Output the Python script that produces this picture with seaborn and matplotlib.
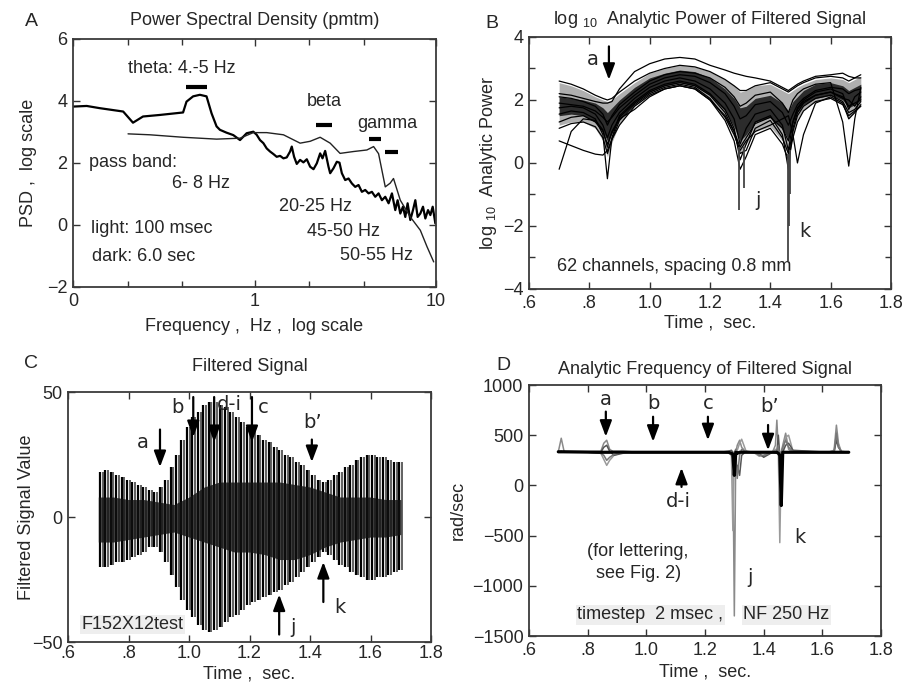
import numpy as np
import pandas as pd
import matplotlib
matplotlib.use("Agg")
import matplotlib.pyplot as plt
import seaborn as sns

# ---------------- Panel A : power spectral density ----------------
psd_freq = [0.100, 0.119, 0.140, 0.189, 0.214, 0.243, 0.301, 0.404, 0.422, 0.459,
            0.500, 0.544, 0.580, 0.618, 0.645, 0.700, 0.764, 0.832, 0.905, 0.985,
            1.028, 1.072, 1.119, 1.167, 1.218, 1.270, 1.325, 1.383, 1.443, 1.505,
            1.570, 1.604, 1.652, 1.709, 1.783, 1.860, 1.941, 2.025, 2.113, 2.204,
            2.299, 2.369, 2.450, 2.556, 2.611, 2.723, 2.841, 2.939, 3.028, 3.159,
            3.296, 3.439, 3.587, 3.742, 3.904, 4.073, 4.249, 4.433, 4.625, 4.825,
            5.034, 5.252, 5.479, 5.716, 5.963, 6.143, 6.355, 6.574, 6.771, 6.975,
            7.216, 7.465, 7.690, 7.921, 8.194, 8.477, 8.733, 9.034, 9.308, 9.586, 9.915]
psd_logpow = [3.82, 3.84, 3.77, 3.66, 3.30, 3.50, 3.55, 3.63, 3.98, 4.15,
              4.20, 4.15, 3.60, 3.18, 3.07, 2.98, 2.90, 2.74, 2.96, 3.01,
              2.91, 2.74, 2.64, 2.47, 2.37, 2.29, 2.20, 2.23, 2.15, 2.18,
              2.37, 2.53, 2.20, 1.97, 2.10, 2.02, 2.12, 1.88, 1.80, 1.99,
              2.31, 2.15, 2.39, 1.88, 1.67, 1.83, 2.04, 2.01, 1.67, 1.45,
              1.50, 1.34, 1.23, 1.29, 1.07, 1.13, 1.02, 1.07, 0.91, 1.02,
              0.80, 0.91, 0.70, 1.02, 0.48, 0.80, 0.37, 0.59, 0.26, 0.70,
              0.16, 0.48, 0.80, 0.26, 0.37, 0.59, 0.21, 0.48, 0.32, 0.59, 0.05]
ref_freq = [0.201, 0.265, 0.404, 0.618, 0.832, 0.985, 1.167, 1.443, 1.783, 2.025,
            2.299, 2.611, 2.960, 3.510, 4.160, 4.530, 4.825, 5.252, 5.590, 5.830,
            6.355, 7.216, 8.194, 8.920, 9.710]
ref_logpow = [2.94, 2.91, 2.83, 2.77, 2.80, 2.98, 2.98, 2.91, 2.64, 2.70,
              2.83, 2.64, 2.31, 2.37, 2.42, 2.53, 2.30, 1.23, 1.35, 1.50,
              0.80, 0.26, -0.17, -0.70, -1.19]

# ---------------- Panel B : log10 analytic power, channels ----------------
b_time = [0.70, 0.74, 0.78, 0.82, 0.845, 0.86, 0.875, 0.90, 0.95, 1.00, 1.05, 1.10,
          1.15, 1.20, 1.25, 1.28, 1.30, 1.32, 1.35, 1.40, 1.44, 1.46, 1.475, 1.49,
          1.51, 1.55, 1.60, 1.64, 1.66, 1.68, 1.70]
b_ch1 = [2.60, 2.50, 2.35, 2.15, 2.05, 2.00, 2.05, 2.25, 2.60, 2.85, 3.00, 3.10, 3.05, 2.90, 2.65, 2.45,
         2.30, 2.30, 2.45, 2.55, 2.35, 2.25, 2.35, 2.45, 2.55, 2.70, 2.75, 2.70, 2.60, 2.70, 2.80]
b_ch2 = [2.20, 2.15, 2.05, 1.95, 1.90, 1.90, 1.95, 2.35, 2.90, 3.15, 3.30, 3.35, 3.30, 3.10, 2.95, 2.85,
         2.80, 2.75, 2.70, 2.60, 2.40, 2.30, 2.40, 2.50, 2.60, 2.75, 2.80, 2.85, 2.75, 2.70, 2.70]
b_ch3 = [1.90, 1.85, 1.80, 1.65, 1.45, 1.30, 1.45, 1.75, 2.15, 2.50, 2.70, 2.80, 2.75, 2.55, 2.20, 1.80,
         1.40, 1.50, 1.85, 1.95, 1.60, 1.20, 1.55, 1.85, 2.05, 2.30, 2.40, 2.35, 2.20, 2.30, 2.35]
b_ch4 = [1.75, 1.80, 1.75, 1.55, 1.20, 0.80, 1.20, 1.60, 2.05, 2.40, 2.60, 2.70, 2.60, 2.35, 1.90, 1.40,
         0.60, 1.10, 1.55, 1.70, 1.20, 0.40, 1.30, 1.75, 2.00, 2.25, 2.35, 2.20, 1.70, 2.10, 2.25]
b_ch5 = [1.55, 1.65, 1.60, 1.40, 0.90, -0.50, 0.80, 1.50, 1.95, 2.30, 2.50, 2.60, 2.50, 2.20, 1.70, 1.10,
         0.10, 0.60, 1.30, 1.50, 0.90, -0.20, 1.10, 1.60, 1.90, 2.15, 2.25, 2.05, 2.00, 1.80, 2.10]
b_ch6 = [1.30, 1.45, 1.50, 1.30, 1.00, 0.60, 0.95, 1.45, 1.90, 2.25, 2.45, 2.55, 2.45, 2.15, 1.60, 1.00,
         0.30, 0.40, 1.10, 1.35, 0.80, 0.30, 1.00, 1.50, 1.80, 2.05, 2.15, 1.95, 1.60, 1.70, 1.95]
b_ch7 = [1.10, 1.25, 1.30, 1.15, 0.80, 0.30, 0.75, 1.35, 1.85, 2.20, 2.40, 2.50, 2.40, 2.05, 1.45, 0.90,
         0.40, 0.70, 1.00, 1.20, 1.40, 1.50, 0.90, 0.00, 0.90, 1.90, 2.10, 1.90, 1.40, 1.60, 1.85]
b_ch8 = [2.10, 2.05, 1.95, 1.80, 1.55, 1.20, 1.50, 1.85, 2.25, 2.60, 2.80, 2.90, 2.85, 2.70, 2.40, 2.10,
         1.80, 1.90, 2.15, 2.25, 1.90, 1.60, 2.00, 2.20, 2.35, 2.50, 2.55, 1.30, -0.10, 1.40, 2.40]
b_ch9 = [0.70, 0.55, 0.40, 0.28, 0.25, 0.40, 0.75, 1.20, 1.80, 2.15, 2.35, 2.45, 2.35, 2.00, 1.50, 1.00,
         0.50, 0.80, 1.25, 1.45, 1.10, 0.70, 1.30, 1.70, 1.95, 2.15, 2.25, 2.10, 1.80, 1.90, 2.00]
b_ch10 = [-0.20, 1.00, 1.40, 1.35, 1.05, 0.50, 1.00, 1.40, 1.70, 2.10, 2.35, 2.45, 2.35, 2.00, 1.35, 0.70,
          -0.20, 0.20, 0.90, 1.10, 0.60, 0.10, 0.80, 1.30, 1.65, 1.95, 2.05, 1.85, 1.50, 1.65, 1.80]
b_outer_hi = [2.55, 2.45, 2.30, 2.10, 2.00, 1.95, 2.00, 2.20, 2.55, 2.85, 3.00, 3.10, 3.05, 2.90, 2.65, 2.45,
              2.25, 2.30, 2.45, 2.50, 2.30, 2.20, 2.30, 2.40, 2.50, 2.65, 2.70, 2.65, 2.55, 2.65, 2.75]
b_outer_lo = [1.20, 1.30, 1.30, 1.10, 0.70, 0.20, 0.65, 1.25, 1.80, 2.15, 2.35, 2.45, 2.35, 2.00, 1.40, 0.80,
              0.30, 0.60, 1.00, 1.15, 0.70, 0.20, 0.90, 1.40, 1.70, 1.95, 2.05, 1.85, 1.40, 1.60, 1.80]
b_core_hi = [2.10, 2.05, 2.00, 1.90, 1.75, 1.60, 1.75, 2.00, 2.40, 2.70, 2.85, 2.95, 2.90, 2.70, 2.35, 2.05,
             1.75, 1.80, 2.05, 2.15, 1.90, 1.65, 1.95, 2.10, 2.30, 2.50, 2.55, 2.45, 2.30, 2.40, 2.50]
b_core_lo = [1.50, 1.55, 1.50, 1.30, 1.00, 0.70, 0.95, 1.40, 1.90, 2.25, 2.45, 2.55, 2.45, 2.15, 1.65, 1.15,
             0.70, 0.90, 1.30, 1.45, 1.10, 0.75, 1.25, 1.60, 1.85, 2.05, 2.15, 2.00, 1.75, 1.85, 2.00]
b_spike_time = [1.297, 1.312, 1.458, 1.461, 1.464]
b_spike_low = [-1.5, -0.8, -3.1, -2.0, -1.0]
b_spike_high = [0.5, 0.5, 0.3, 0.3, 0.4]

# ---------------- Panel C : filtered signal (peak / trough per cycle) ----------------
c_cycle_time = np.linspace(0.705, 1.695, 56)
c_peaks = [18, 19, 18, 17, 16, 15, 14, 13, 12, 11, 10, 12, 15, 20, 25, 31, 36, 40, 42, 45,
           46, 46, 45, 44, 42, 40, 38, 36, 35, 33, 31, 30, 28, 27, 25, 24, 22, 21, 19, 17,
           15, 14, 15, 17, 18, 20, 21, 23, 24, 25, 25, 24, 24, 23, 22, 22]
c_troughs = [-20, -20, -19, -18, -18, -17, -16, -15, -14, -12, -12, -14, -18, -23, -28, -33, -37, -40, -43, -45,
             -46, -45, -44, -42, -40, -39, -37, -35, -34, -33, -32, -31, -30, -29, -27, -26, -24, -22, -20, -18,
             -16, -14, -15, -17, -19, -20, -22, -23, -24, -25, -25, -24, -24, -23, -22, -21]
c_core_time = [0.70, 0.75, 0.80, 0.85, 0.90, 0.95, 1.00, 1.05, 1.10, 1.15, 1.20,
               1.25, 1.30, 1.35, 1.40, 1.45, 1.50, 1.55, 1.60, 1.65, 1.70]
c_core_hi = [8, 8, 7, 7, 6, 5, 8, 12, 14, 14, 14, 14, 14, 13, 12, 10, 8, 8, 8, 7, 7]
c_core_lo = [-10, -10, -9, -8, -7, -6, -8, -10, -12, -14, -14, -15, -17, -17, -15, -12, -10, -9, -8, -8, -7]

# ---------------- Panel D : analytic frequency ----------------
d_time = [0.700, 0.710, 0.720, 0.800, 0.845, 0.855, 0.865, 0.875, 0.890, 0.920,
          0.950, 1.250, 1.280, 1.290, 1.295, 1.300, 1.305, 1.310, 1.318, 1.325,
          1.340, 1.370, 1.385, 1.400, 1.430, 1.440, 1.445, 1.450, 1.455, 1.460,
          1.465, 1.475, 1.485, 1.500, 1.620, 1.640, 1.648, 1.655, 1.665, 1.690]
d_main = [335, 335, 335, 332, 330, 330, 330, 330, 332, 332,
          330, 330, 330, 320, 310, 100, 330, 320, 330, 330,
          330, 330, 330, 330, 330, 330, 330, 320, 300, -200,
          330, 330, 330, 330, 330, 330, 330, 330, 330, 330]
d_ch2 = [335, 470, 335, 335, 340, 420, 450, 360, 330, 335,
         330, 330, 320, 330, 330, -1300, 330, 400, 450, 380,
         330, 330, 300, 290, 330, 400, 650, 350, 330, 330,
         400, 520, 360, 330, 330, 350, 600, 420, 330, 330]
d_ch3 = [330, 330, 330, 330, 320, 260, 200, 250, 300, 330,
         330, 330, 330, 320, -450, 300, 310, 350, 420, 460,
         340, 320, 290, 300, 330, 360, 330, 330, -570, 250,
         340, 480, 500, 340, 330, 340, 480, 400, 335, 330]
d_ch4 = [330, 340, 330, 330, 330, 380, 400, 340, 300, 320,
         330, 330, 340, 350, 330, 250, 100, 200, 100, 300,
         340, 330, 320, 280, 330, 330, 330, 500, 300, 200,
         330, 400, 420, 350, 330, 330, 450, 380, 335, 330]
d_ch5 = [330, 330, 330, 330, 320, 300, 250, 280, 310, 330,
         330, 330, 330, 300, 280, 330, 360, 70, 300, 360,
         330, 330, 300, 300, 330, 320, 350, 400, 280, 330,
         380, 450, 380, 340, 330, 330, 520, 380, 340, 330]

# ---------------- styling ----------------
sns.set_theme(style="ticks")
plt.rcParams['font.family'] = ['Liberation Sans', 'DejaVu Sans']
plt.rcParams['mathtext.default'] = 'regular'
FS = 13
LETTER = dict(family=['DejaVu Sans'], fontsize=14)

fig = plt.figure(figsize=(9.23, 6.83), dpi=100)
fig.patch.set_facecolor('white')
axA = fig.add_axes([0.0791, 0.5798, 0.3933, 0.3631])
axB = fig.add_axes([0.5731, 0.5769, 0.3922, 0.3690])
axC = fig.add_axes([0.0737, 0.0600, 0.3933, 0.3660])
axD = fig.add_axes([0.5731, 0.0688, 0.3814, 0.3675])


def style(ax):
    ax.tick_params(which='both', direction='in', top=True, right=True,
                   labelsize=FS, color='#333333', pad=4)
    ax.tick_params(which='major', length=5, width=1)
    ax.tick_params(which='minor', length=4, width=1)
    for s in ax.spines.values():
        s.set_linewidth(1.3)
        s.set_color('#3a3a3a')


def arrow(ax, x, y0, y1):
    ax.annotate('', xy=(x, y1), xytext=(x, y0),
                arrowprops=dict(arrowstyle='-|>,head_length=0.8,head_width=0.3',
                                color='black', lw=1.6, shrinkA=0, shrinkB=0), zorder=6)


time_ticks = [0.6, 0.8, 1.0, 1.2, 1.4, 1.6, 1.8]
time_labels = ['.6', '.8', '1.0', '1.2', '1.4', '1.6', '1.8']

# ---- Panel A ----
sns.lineplot(x=psd_freq, y=psd_logpow, ax=axA, color='black', lw=1.6, estimator=None, sort=False)
sns.lineplot(x=ref_freq, y=ref_logpow, ax=axA, color='#222222', lw=1.0, estimator=None, sort=False)
axA.set_xscale('log')
axA.set_xlim(0.1, 10)
axA.set_ylim(-2, 6)
axA.set_xticks([0.1, 1, 10])
axA.set_xticklabels(['0', '1', '10'])
axA.set_xticks([0.2, 0.4, 2, 4], minor=True)
axA.xaxis.set_minor_formatter(matplotlib.ticker.NullFormatter())
axA.set_yticks([-2, 0, 2, 4, 6])
style(axA)
axA.set_title('Power Spectral Density (pmtm)', fontsize=FS, pad=10)
axA.set_xlabel('Frequency ,  Hz ,  log scale', fontsize=FS)
axA.set_ylabel('PSD ,  log scale', fontsize=FS)
axA.xaxis.set_label_coords(0.5, -0.125)
axA.yaxis.set_label_coords(-0.10, 0.5)
for lo, hi, yv in [(0.42, 0.544, 4.45), (2.18, 2.68, 3.21), (4.25, 4.97, 2.76), (5.25, 6.2, 2.35)]:
    axA.hlines(yv, lo, hi, color='black', lw=3)
for txt, x, y in [('theta: 4.-5 Hz', 0.20, 5.06), ('beta', 1.94, 3.98), ('gamma', 3.67, 3.26),
                  ('pass band:', 0.122, 2.02), ('6- 8 Hz', 0.35, 1.34), ('20-25 Hz', 1.36, 0.59),
                  ('45-50 Hz', 1.94, -0.22), ('50-55 Hz', 2.96, -0.97),
                  ('light: 100 msec', 0.125, -0.11), ('dark: 6.0 sec', 0.127, -1.03)]:
    axA.text(x, y, txt, fontsize=FS, ha='left', va='center')

# ---- Panel B ----
b_curves = [b_ch1, b_ch2, b_ch3, b_ch4, b_ch5, b_ch6, b_ch7, b_ch8, b_ch9, b_ch10]
dfB = pd.DataFrame({'time': np.tile(b_time, len(b_curves)),
                    'power': np.concatenate(b_curves),
                    'channel': np.repeat(np.arange(len(b_curves)), len(b_time))})
axB.fill_between(b_time, b_outer_lo, b_outer_hi, color='#6e6e6e', alpha=0.55, lw=0)
axB.fill_between(b_time, b_core_lo, b_core_hi, color='#151515', alpha=0.85, lw=0)
sns.lineplot(data=dfB, x='time', y='power', units='channel', estimator=None,
             color='black', lw=0.9, ax=axB)
axB.vlines(b_spike_time, b_spike_low, b_spike_high, color='#444444', lw=1.3)
axB.set_xlim(0.6, 1.8)
axB.set_ylim(-4, 4)
axB.set_xticks(time_ticks)
axB.set_xticklabels(time_labels)
axB.set_yticks([-4, -2, 0, 2, 4])
axB.set_yticks([-3, -1, 1, 3], minor=True)
style(axB)
axB.set_title(r'log $_{10}$  Analytic Power of Filtered Signal', fontsize=FS, pad=9)
axB.set_xlabel('Time ,  sec.', fontsize=FS)
axB.set_ylabel(r'log $_{10}$  Analytic Power', fontsize=FS)
axB.xaxis.set_label_coords(0.5, -0.10)
axB.yaxis.set_label_coords(-0.083, 0.5)
arrow(axB, 0.865, 3.70, 2.64)
axB.text(0.811, 3.28, 'a', ha='center', va='center', **LETTER)
axB.text(1.359, -1.18, 'j', ha='center', va='center', **LETTER)
axB.text(1.514, -2.19, 'k', ha='center', va='center', **LETTER)
axB.text(0.692, -3.30, '62 channels, spacing 0.8 mm', fontsize=FS, ha='left', va='center')

# ---- Panel C ----
half = 0.009
axC.vlines(c_cycle_time + half, c_troughs, c_peaks, color='#555555', lw=1.3)
axC.vlines(c_cycle_time, c_troughs, c_peaks, color='black', lw=1.6)
axC.fill_between(c_core_time, c_core_lo, c_core_hi, color='#111111', alpha=0.8, lw=0, zorder=3)
sns.lineplot(x=c_cycle_time, y=c_peaks, ax=axC, color='black', lw=0, estimator=None, sort=False)
axC.set_xlim(0.6, 1.8)
axC.set_ylim(-50, 50)
axC.set_xticks(time_ticks)
axC.set_xticklabels(time_labels)
axC.set_yticks([-50, 0, 50])
style(axC)
axC.tick_params(axis='x', pad=2)
axC.set_title('Filtered Signal', fontsize=FS, pad=15)
axC.set_xlabel('Time ,  sec.', fontsize=FS)
axC.set_ylabel('Filtered Signal Value', fontsize=FS)
axC.xaxis.set_label_coords(0.5, -0.092)
axC.yaxis.set_label_coords(-0.09, 0.5)
for x, y0, y1 in [(0.904, 35, 20), (1.014, 48, 32), (1.083, 48, 30), (1.208, 48, 30),
                  (1.406, 31, 22), (1.298, -47, -31), (1.444, -34, -18)]:
    arrow(axC, x, y0, y1)
for txt, x, y in [('a', 0.848, 30), ('b', 0.962, 44), ('d-i', 1.135, 45), ('c', 1.245, 44),
                  ('b\u2019', 1.41, 38), ('j', 1.345, -44), ('k', 1.50, -36)]:
    axC.text(x, y, txt, ha='center', va='center', **LETTER)
axC.text(0.645, -43, 'F152X12test', fontsize=FS, ha='left', va='center', zorder=7,
         bbox=dict(facecolor='#eeeeee', edgecolor='none', pad=1))

# ---- Panel D ----
d_traces = [d_ch2, d_ch3, d_ch4, d_ch5]
dfD = pd.DataFrame({'time': np.tile(d_time, len(d_traces)),
                    'freq': np.concatenate(d_traces),
                    'channel': np.repeat(np.arange(len(d_traces)), len(d_time))})
sns.lineplot(data=dfD, x='time', y='freq', hue='channel', units='channel', estimator=None,
             palette=['#8a8a8a', '#9a9a9a', '#555555', '#777777'], lw=1.1, legend=False, ax=axD)
sns.lineplot(x=d_time, y=d_main, ax=axD, color='black', lw=2.3, estimator=None, sort=False)
axD.set_xlim(0.6, 1.8)
axD.set_ylim(-1500, 1000)
axD.set_xticks(time_ticks)
axD.set_xticklabels(time_labels)
axD.set_yticks([-1500, -1000, -500, 0, 500, 1000])
style(axD)
axD.set_title('Analytic Frequency of Filtered Signal', fontsize=FS, pad=8)
axD.set_xlabel('Time ,  sec.', fontsize=FS)
axD.set_ylabel('rad/sec', fontsize=FS)
axD.xaxis.set_label_coords(0.5, -0.11)
axD.yaxis.set_label_coords(-0.176, 0.5)
for x, y0, y1 in [(0.862, 735, 485), (1.023, 684, 435), (1.21, 684, 450), (1.415, 602, 350),
                  (1.12, -15, 175)]:
    arrow(axD, x, y0, y1)
for txt, x, y in [('a', 0.862, 855), ('b', 1.023, 820), ('c', 1.21, 820), ('b\u2019', 1.42, 785),
                  ('d-i', 1.11, -160), ('k', 1.525, -515), ('j', 1.355, -913)]:
    axD.text(x, y, txt, ha='center', va='center', **LETTER)
axD.text(0.97, -663, '(for lettering,', fontsize=FS, ha='center', va='center')
axD.text(0.975, -873, 'see Fig. 2)', fontsize=FS, ha='center', va='center')
axD.text(0.764, -1290, 'timestep  2 msec ,', fontsize=FS, ha='left', va='center',
         bbox=dict(facecolor='#eeeeee', edgecolor='none', pad=1))
axD.text(1.33, -1290, 'NF 250 Hz', fontsize=FS, ha='left', va='center',
         bbox=dict(facecolor='#eeeeee', edgecolor='none', pad=1))

# panel letters
for lab, x, y in [('A', 31, 22), ('B', 492, 23), ('C', 31, 363), ('D', 503, 365)]:
    fig.text(x / 923, 1 - y / 683, lab, fontsize=14, ha='center', va='center')

fig.savefig('out.png', dpi=100)
